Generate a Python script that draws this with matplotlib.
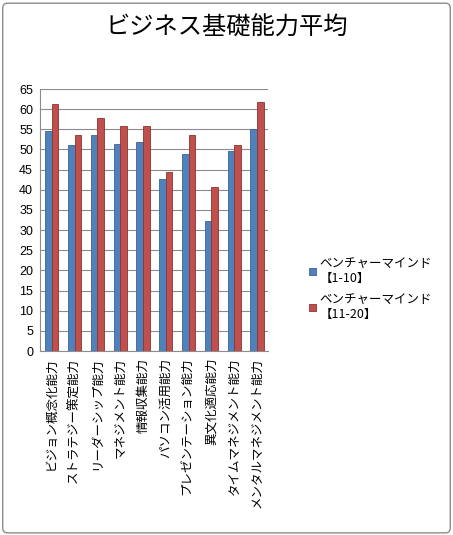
import matplotlib.pyplot as plt
import numpy as np
from matplotlib.patches import FancyBboxPatch

plt.rcParams['font.family'] = ['Noto Sans CJK JP', 'DejaVu Sans']

categories = ['ビジョン概念化能力', 'ストラテジー策定能力', 'リーダーシップ能力',
              'マネジメント能力', '情報収集能力', 'パソコン活用能力',
              'プレゼンテーション能力', '異文化適応能力', 'タイムマネジメント能力',
              'メンタルマネジメント能力']
blue_vals = [54.6, 51.0, 53.7, 51.4, 51.9, 42.6, 48.9, 32.3, 49.6, 55.0]
red_vals = [61.3, 53.6, 57.8, 55.8, 55.8, 44.4, 53.6, 40.7, 51.2, 61.7]
series_names = ['ベンチャーマインド\n【1-10】', 'ベンチャーマインド\n【11-20】']
yticks = list(range(0, 70, 5))

blue = '#4F81BD'
red = '#C0504D'

fig = plt.figure(figsize=(4.53, 5.35), dpi=100)
ax = fig.add_axes([40 / 453, 1 - 351 / 535, 228 / 453, 262 / 535])

x = np.arange(len(categories))
w = 0.29
b1 = ax.bar(x - w / 2 + 0.02, blue_vals, w, color=blue, edgecolor='#3A6496',
            linewidth=0.6, zorder=3, label=series_names[0])
b2 = ax.bar(x + w / 2 + 0.02, red_vals, w, color=red, edgecolor='#8E3331',
            linewidth=0.6, zorder=3, label=series_names[1])

ax.set_xlim(-0.5, len(categories) - 0.5)
ax.set_ylim(0, 65)
ax.set_yticks(yticks)
ax.set_yticklabels([str(t) for t in yticks], fontsize=9,
                   family=['Liberation Sans', 'DejaVu Sans'])
ax.set_xticks(x)
ax.set_xticklabels(categories, rotation=90, fontsize=9, va='top', ha='center')
ax.tick_params(axis='both', length=0, pad=5)
ax.yaxis.grid(True, color='#8C8C8C', linewidth=0.8, zorder=0)
for s in ['top', 'right']:
    ax.spines[s].set_visible(False)
ax.spines['left'].set_color('#8C8C8C')
ax.spines['bottom'].set_color('#8C8C8C')

fig.text(0.5, 1 - 28 / 535, 'ビジネス基礎能力平均', ha='center', va='center',
         fontsize=17.5)

fig.legend(handles=[b1, b2], labels=series_names, loc='upper left',
           bbox_to_anchor=(298 / 453, 1 - 246 / 535), frameon=False,
           fontsize=9, handlelength=0.5, handleheight=0.5,
           handletextpad=0.3, labelspacing=0.6)

border = FancyBboxPatch((0.006, 0.004), 0.988, 0.99,
                        boxstyle='round,pad=0,rounding_size=0.01',
                        transform=fig.transFigure, fill=False,
                        edgecolor='#8C8C8C', linewidth=1.0)
fig.patches.append(border)

fig.savefig('out.png', dpi=100)
